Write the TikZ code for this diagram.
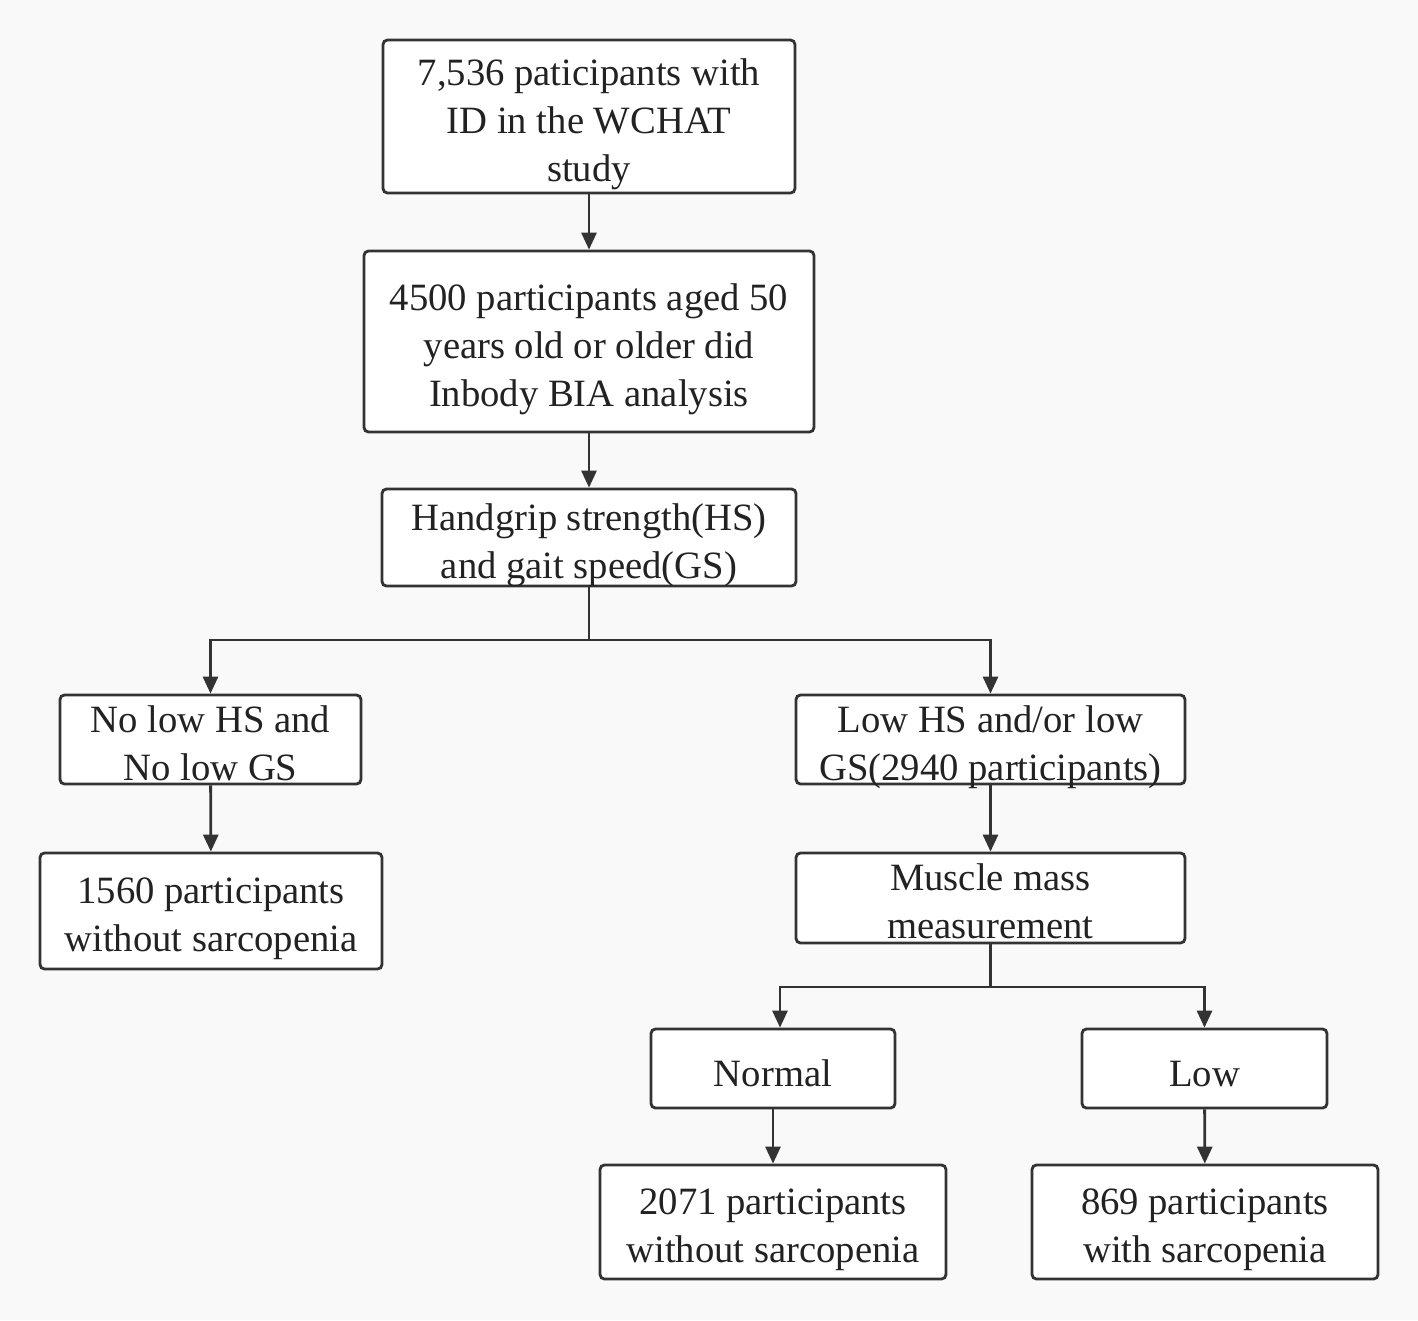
\documentclass[tikz,border=0pt]{standalone}
\usepackage{fontspec}
\setmainfont{Liberation Serif}
\usetikzlibrary{arrows.meta}
\definecolor{bggray}{HTML}{F9F9F9}
\definecolor{linegray}{HTML}{333333}
\definecolor{textgray}{HTML}{222222}
\begin{document}
\begin{tikzpicture}[x=0.02cm,y=-0.02cm,line width=1.6pt,
    main node/.style={rectangle,rounded corners=2.5pt,draw=linegray,fill=white,text=textgray,align=center,inner sep=0pt,font=\fontsize{22}{27.3}\selectfont},
    one line/.style={text height=20pt,text depth=0pt},
    two lines/.style={text height=46.3pt,text depth=0pt},
    three lines/.style={text height=73.6pt,text depth=0pt},
    flow/.style={draw=linegray,-{Triangle[length=0.34cm,width=0.3cm]}}]
        \fill[bggray] (0,0) rectangle (1418,1320);
        \useasboundingbox (0,0) rectangle (1418,1320);

        \node[main node, three lines, minimum width=8.24cm, minimum height=3.06cm] at (589, 116.5) (wchat) {7,536 paticipants with\\ID in the WCHAT\\study};
        \node[main node, three lines, minimum width=9.0cm, minimum height=3.62cm] at (589, 341.5) (bia) {4500 participants aged 50\\years old or older did\\Inbody BIA analysis};
        \node[main node, two lines, minimum width=8.28cm, minimum height=1.94cm] at (589, 537.5) (hsgs) {Handgrip strength(HS)\\and gait speed(GS)};
        \node[main node, two lines, minimum width=6.02cm, minimum height=1.78cm] at (210.5, 739.5) (nolow) {No low HS and\\No low GS};
        \node[main node, two lines, minimum width=6.84cm, minimum height=2.32cm] at (211, 911) (nosarc) {1560 participants\\without sarcopenia};
        \node[main node, two lines, minimum width=7.78cm, minimum height=1.78cm] at (990.5, 739.5) (lowhs) {Low HS and/or low\\GS(2940 participants)};
        \node[main node, two lines, minimum width=7.78cm, minimum height=1.80cm] at (990.5, 898) (muscle) {Muscle mass\\measurement};
        \node[main node, one line, minimum width=4.88cm, minimum height=1.58cm] at (773, 1068.5) (normal) {Normal};
        \node[main node, one line, minimum width=4.9cm, minimum height=1.58cm] at (1204.5, 1068.5) (low) {Low};
        \node[main node, two lines, minimum width=6.92cm, minimum height=2.28cm] at (773, 1222) (normsarc) {2071 participants\\without sarcopenia};
        \node[main node, two lines, minimum width=6.92cm, minimum height=2.28cm] at (1205, 1222) (sarc) {869 participants\\with sarcopenia};

        \coordinate (split a) at (589, 640);
        \coordinate (split b) at (990.5, 987);

        \draw[flow] (wchat) -- (bia);
        \draw[flow] (bia) -- (hsgs);
        \draw[draw=linegray] (hsgs) -- (split a);
        \draw[flow] (split a) -| (nolow);
        \draw[flow] (split a) -| (lowhs);
        \draw[flow] (nolow) -- (nosarc);
        \draw[flow] (lowhs) -- (muscle);
        \draw[draw=linegray] (muscle) -- (split b);
        \draw[flow] (split b) -| ([xshift=0.14cm]normal.north);
        \draw[flow] (split b) -| (low);
        \draw[flow] (normal) -- (normsarc);
        \draw[flow] (low) -- (sarc);
\end{tikzpicture}
\end{document}
